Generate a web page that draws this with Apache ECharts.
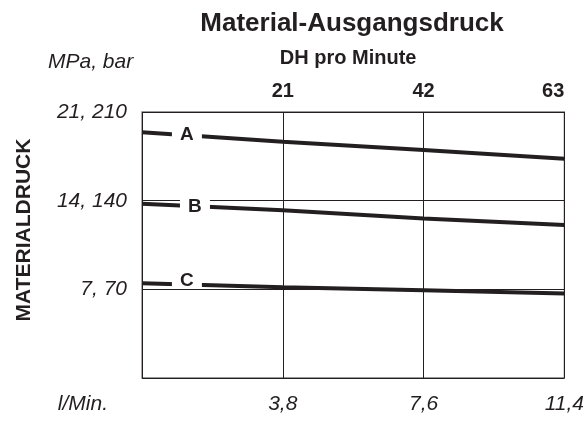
<!DOCTYPE html>
<html><head><meta charset="utf-8">
<script src="https://cdn.jsdelivr.net/npm/echarts@6/dist/echarts.min.js"></script>
<style>html,body{margin:0;padding:0;background:#fff}#c{width:587px;height:421px}</style>
</head><body><div id="c"></div>
<script>
// Data
const dhPerMinute = [0, 21, 42, 63];
const lineA = [19.4, 18.65, 18.0, 17.3];
const lineB = [13.75, 13.25, 12.6, 12.07];
const lineC = [7.48, 7.17, 6.93, 6.67];
const curveNames = ['A', 'B', 'C'];
const labelDh = [6.7, 7.9, 6.7];
const labelPressure = [19.2, 13.55, 7.7];
const pressureTicks = {7: '7, 70', 14: '14, 140', 21: '21, 210'};
const flowTicks = {3.8: '3,8', 7.6: '7,6', 11.4: '11,4'};
const dhTicks = [21, 42, 63];

const ink = '#231f20';
const font = 'Liberation Sans, Arial, sans-serif';
const chart = echarts.init(document.getElementById('c'));
const curves = [lineA, lineB, lineC];
const series = curves.map((vals, i) => ({
  type: 'line', name: curveNames[i], xAxisIndex: 1, yAxisIndex: 0,
  data: dhPerMinute.map((d, k) => [d, vals[k]]),
  symbol: 'none', lineStyle: {color: ink, width: 4}, z: 3, silent: true
}));
series.push({
  type: 'scatter', xAxisIndex: 1, yAxisIndex: 0, z: 5, silent: true,
  data: curveNames.map((n, i) => ({name: n, value: [labelDh[i], labelPressure[i]]})),
  symbol: 'rect', symbolSize: [30, 16],
  itemStyle: {color: '#fff', opacity: 1},
  label: {show: true, position: 'inside', formatter: p => p.name, color: ink, opacity: 1,
    fontFamily: font, fontWeight: 'bold', fontSize: 19}
});
chart.setOption({
  animation: false,
  backgroundColor: '#fff',
  title: [
    {text: 'Material-Ausgangsdruck', left: 347, top: 6, textAlign: 'center',
      textStyle: {fontFamily: font, fontWeight: 'bold', fontSize: 26, color: ink}},
    {text: 'MPa, bar', left: 43, top: 47,
      textStyle: {fontFamily: font, fontStyle: 'italic', fontWeight: 'normal', fontSize: 21, color: ink}}
  ],
  grid: {left: 142, right: 20, top: 112, bottom: 43, show: true, borderColor: '#7a7a7a', borderWidth: 1.3},
  xAxis: [
    {type: 'value', position: 'bottom', min: 0, max: 11.4, interval: 3.8,
      name: 'l/Min.', nameLocation: 'start', nameGap: 34,
      nameTextStyle: {fontFamily: font, fontStyle: 'italic', fontSize: 21, color: ink,
        verticalAlign: 'top', padding: [16, 0, 0, 0]},
      axisLine: {show: false}, axisTick: {show: false}, splitLine: {show: false},
      axisLabel: {margin: 16, fontFamily: font, fontStyle: 'italic', fontSize: 21, color: ink,
        formatter: v => flowTicks[Math.round(v * 10) / 10] || ''}},
    {type: 'value', position: 'top', min: 0, max: 63, interval: 21,
      name: 'DH pro Minute', nameLocation: 'middle', nameGap: 44,
      nameTextStyle: {fontFamily: font, fontWeight: 'bold', fontSize: 20, color: ink, padding: [0, 10, 0, 0]},
      axisLine: {show: false}, axisTick: {show: false},
      splitLine: {show: true, lineStyle: {color: ink, width: 1}},
      axisLabel: {margin: 11, fontFamily: font, fontWeight: 'bold', fontSize: 20, color: ink,
        alignMaxLabel: 'right',
        formatter: v => dhTicks.includes(v) ? String(v) : ''}}
  ],
  yAxis: [
    {type: 'value', min: 0, max: 21, interval: 7,
      name: 'MATERIALDRUCK', nameLocation: 'middle', nameGap: 107,
      nameTextStyle: {fontFamily: font, fontWeight: 'bold', fontSize: 21, color: ink, padding: [0, 0, 0, 30]},
      axisLine: {show: false}, axisTick: {show: false},
      splitLine: {show: true, lineStyle: {color: ink, width: 1}},
      axisLabel: {margin: 15, fontFamily: font, fontStyle: 'italic', fontSize: 21, color: ink,
        formatter: v => pressureTicks[v] || ''}}
  ],
  series: series
});
</script></body></html>
